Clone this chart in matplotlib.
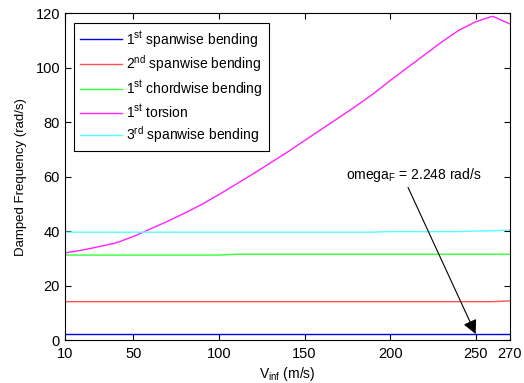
import matplotlib
matplotlib.use("Agg")
import matplotlib.pyplot as plt
import numpy as np

plt.rcParams['font.family'] = ['Liberation Sans', 'DejaVu Sans']
plt.rcParams['font.size'] = 10

# airspeed samples (m/s)
v_inf = [10, 20, 30, 40, 50, 60, 70, 80, 90, 100, 110, 120, 130, 140,
         150, 160, 170, 180, 190, 200, 210, 220, 230, 240, 250, 260, 270]

# damped frequencies (rad/s)
span1 = [2.25, 2.25, 2.25, 2.25, 2.25, 2.25, 2.25, 2.25, 2.25, 2.25, 2.25, 2.25, 2.25, 2.25,
         2.25, 2.25, 2.25, 2.25, 2.25, 2.25, 2.25, 2.25, 2.25, 2.25, 2.25, 2.25, 2.25]
span2 = [14.1, 14.1, 14.1, 14.1, 14.1, 14.1, 14.1, 14.1, 14.1, 14.1, 14.1, 14.1, 14.1, 14.1,
         14.1, 14.1, 14.1, 14.1, 14.1, 14.1, 14.1, 14.1, 14.1, 14.1, 14.1, 14.1, 14.4]
chord1 = [31.2, 31.2, 31.2, 31.2, 31.2, 31.2, 31.2, 31.2, 31.2, 31.2, 31.5, 31.5, 31.5, 31.5,
          31.5, 31.5, 31.5, 31.5, 31.5, 31.5, 31.5, 31.5, 31.5, 31.5, 31.5, 31.5, 31.5]
torsion1 = [32.0, 33.0, 34.3, 35.7, 38.0, 40.8, 43.6, 46.6, 49.8, 53.4, 57.2, 61.0, 65.0, 69.0,
            73.2, 77.4, 81.6, 85.8, 90.3, 95.2, 99.9, 104.6, 109.3, 113.6, 116.8, 118.8, 116.0]
span3 = [39.6, 39.6, 39.6, 39.6, 39.6, 39.6, 39.6, 39.6, 39.6, 39.6, 39.6, 39.6, 39.6, 39.6,
         39.6, 39.6, 39.6, 39.6, 39.6, 39.8, 39.8, 39.8, 39.8, 39.8, 40.0, 40.1, 40.4]

labels = ['1$^\\mathregular{st}$ spanwise bending',
          '2$^\\mathregular{nd}$ spanwise bending',
          '1$^\\mathregular{st}$ chordwise bending',
          '1$^\\mathregular{st}$ torsion',
          '3$^\\mathregular{rd}$ spanwise bending']
colors = ['#0000e0', '#ff5050', '#33ff33', '#ff22ff', '#55ffff']

x_ticks = [10, 50, 100, 150, 200, 250, 270]
y_ticks = [0, 20, 40, 60, 80, 100, 120]

fig = plt.figure(figsize=(5.24, 3.83), dpi=100)
ax = fig.add_axes([0.124, 0.112, 0.849, 0.854])

for y, lab, c in zip([span1, span2, chord1, torsion1, span3], labels, colors):
    ax.plot(v_inf, y, color=c, lw=1.0, label=lab)

ax.set_xlim(10, 270)
ax.set_ylim(0, 120)
ax.set_xticks(x_ticks)
ax.set_yticks(y_ticks)
ax.tick_params(direction='in', top=True, right=True, length=4, width=0.8, labelsize=10.5)
ax.tick_params(axis='x', pad=5)
for s in ax.spines.values():
    s.set_linewidth(0.8)

ax.set_xlabel('V$_\\mathregular{inf}$ (m/s)', fontsize=10, labelpad=3)
ax.set_ylabel('Damped Frequency (rad/s)', fontsize=9.5, labelpad=6)

leg = ax.legend(loc='upper left', bbox_to_anchor=(0.02, 0.97), fancybox=False,
                edgecolor='black', framealpha=1, handlelength=3.0, handletextpad=0.3,
                fontsize=10, borderaxespad=0, labelspacing=0.28, borderpad=0.45)
leg.get_frame().set_linewidth(0.8)

# flutter frequency note
ax.text(174, 60.5, 'omega$_\\mathregular{F}$ = 2.248 rad/s', fontsize=10, va='center', ha='left')
ax.annotate('', xy=(250, 2.248), xytext=(210.5, 56.0),
            arrowprops=dict(arrowstyle='-|>,head_length=0.6,head_width=0.3', color='black',
                            lw=0.8, mutation_scale=14, shrinkA=0, shrinkB=0))

fig.savefig('out.png', dpi=100)
